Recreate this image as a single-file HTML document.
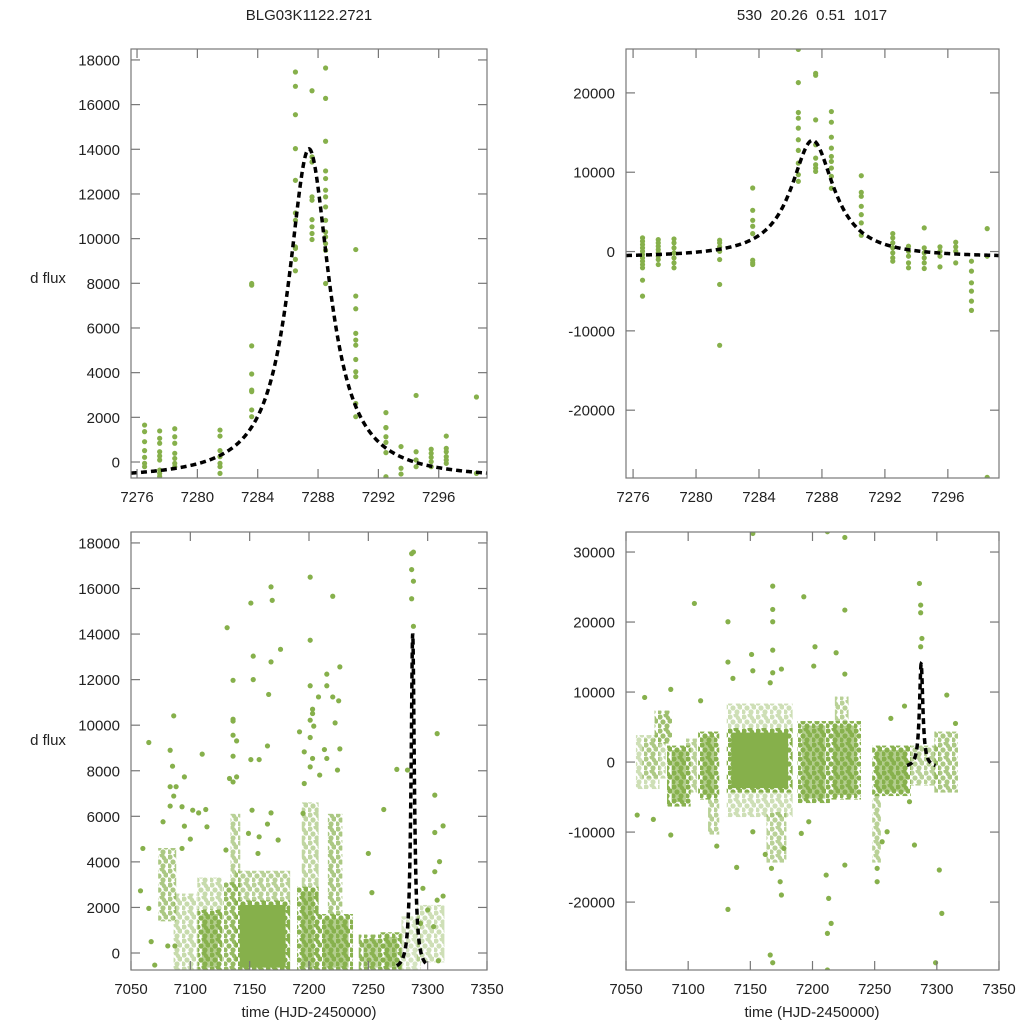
<!DOCTYPE html>
<html><head><meta charset="utf-8">
<style>
html,body{margin:0;padding:0;background:#fff;}
svg{display:block;font-family:"Liberation Sans",sans-serif;}
</style></head>
<body>
<svg id="chart" width="1024" height="1024" viewBox="0 0 1024 1024" xmlns="http://www.w3.org/2000/svg">
<defs>
<pattern id="dotTex" patternUnits="userSpaceOnUse" width="14" height="14">
<circle cx="2" cy="3" r="2.6" fill="#86b04b"/>
<circle cx="8" cy="1" r="2.6" fill="#86b04b"/>
<circle cx="12" cy="7" r="2.6" fill="#86b04b"/>
<circle cx="5" cy="8" r="2.6" fill="#86b04b"/>
<circle cx="1" cy="12" r="2.6" fill="#86b04b"/>
<circle cx="9" cy="12" r="2.6" fill="#86b04b"/>
<circle cx="10" cy="4" r="2.2" fill="#86b04b"/>
</pattern>
</defs>
<rect x="0" y="0" width="1024" height="1024" fill="#fff"/>
<text x="309" y="20" font-size="15" text-anchor="middle" fill="#222">BLG03K1122.2721</text>
<text x="812" y="20" font-size="15" text-anchor="middle" fill="#222" xml:space="preserve">530  20.26  0.51  1017</text>
<text x="48" y="283" font-size="15" text-anchor="middle" fill="#222">d flux</text>
<text x="48" y="745" font-size="15" text-anchor="middle" fill="#222">d flux</text>
<text x="309" y="1017" font-size="15" text-anchor="middle" fill="#222">time (HJD-2450000)</text>
<text x="812" y="1017" font-size="15" text-anchor="middle" fill="#222">time (HJD-2450000)</text>
</svg>
<script>
// ---- fit model parameters (microlensing peak) ----
const fitPeak = 14800, fitBase = -780, fitT0 = 7287.4, fitW = 1.65;

// ---- top-left: zoomed light curve ----
const tlTimes = [7276.5,7277.5,7278.5,7281.5,7283.6,7286.5,7287.6,7288.5,7290.5,7292.5,7293.5,7294.5,7295.5,7296.5,7298.5];
const tlValues = [
 [1655,1360,910,510,210,-60,-210],
 [1390,1060,840,460,270,90,-360,-510,-650],
 [1490,1130,840,390,160,-60,-210],
 [1430,1160,510,240,-60,-210,-510],
 [7990,7920,5200,3940,3150,3220,2330,2030],
 [17460,16820,15550,14030,12610,11150,10820,9630,9560,9070,8560],
 [16620,13660,13430,11870,11720,10850,10530,10230,9960],
 [17640,16280,14360,13030,12690,12170,11870,11420,10820,10300,10080,9780,9480,7990],
 [9510,7430,6860,5760,5460,5230,4590,4040,3820,2620,2030],
 [2210,1540,1540,1130,880,420,-660],
 [690,-280,-540],
 [2980,460,90,-210],
 [570,390,210,15,-210],
 [1160,610,460,240,90,-60],
 [2910,-510]
];
const tlYTicks = [0,2000,4000,6000,8000,10000,12000,14000,16000,18000];
const topXTicks = [7276,7280,7284,7288,7292,7296];

// ---- top-right ----
const trTimes = [7276.6,7277.6,7278.6,7281.5,7283.6,7286.5,7287.6,7288.6,7290.5,7292.5,7293.5,7294.5,7295.5,7296.5,7297.5,7298.5];
const trValues = [
 [1720,1300,880,460,40,-380,-800,-1220,-1640,-2050,-3610,-5620],
 [1510,1090,670,250,-170,-590,-1010,-1640],
 [1590,1090,460,-170,-800,-1430,-2050],
 [1430,1090,590,40,-1010,-4150,-11820],
 [8010,5200,3940,3190,2260,-1090,-1430,-1640],
 [25490,21300,17530,16810,15560,14090,12750,11150,9690,8850],
 [22470,22220,16600,13460,11780,10940,10520,10100],
 [17650,16310,14420,13040,11990,11360,10520,9480,7970],
 [9560,7460,6960,5700,4650,3610,2050],
 [2260,1720,1090,460,-170,-800,-1220],
 [670,40,-590,-1430,-2050],
 [2980,460,-170,-800,-1430,-2140],
 [590,40,-590,-1930],
 [1170,590,40,-1430],
 [-1220,-2470,-3940,-4990,-6250,-7420],
 [2890,-590,-28470]
];
const trYTicks = [-20000,-10000,0,10000,20000];

// ---- bottom-left: full season (dense regions as blocks) ----
const blBlockT0 = [7075,7088,7108,7108,7130,7136,7140,7140,7192,7196,7210,7218,7244,7262,7280,7293];
const blBlockT1 = [7086,7103,7125,7125,7140,7140,7182,7182,7206,7206,7235,7226,7262,7276,7292,7312];
const blBlockLo = [1500,-730,-730,1800,-730,3000,-730,2200,-730,2800,-730,1600,-730,-730,-730,-300];
const blBlockHi = [4500,2500,1800,3200,3000,6000,2200,3500,2800,6500,1600,6000,700,800,1500,2000];
const blBlockDensity = [0.6,0.4,0.85,0.4,0.75,0.5,1,0.5,0.85,0.45,0.85,0.6,0.8,0.85,0.3,0.35];
const blPtT = [7288,7286.5,7286.5,7288,7286.5,7288,7201,7168,7169,7151,7220,7131,7201,7176,7153,7168,7136,7153,7215,7226,7201,7215,7208,7220,7166,7225,7203,7203,7201,7086,7136,7136,7222,7204,7192,7308,7065,7136,7201,7139,7165,7196,7226,7110,7083,7213,7136,7151,7203,7158,7215,7274,7283,7095,7224,7201,7209,7085,7133,7136,7139,7196,7083,7088,7086,7306,7093,7083,7102,7107,7113,7195,7263,7152,7168,7165,7313,7077,7095,7100,7114,7093,7060,7130,7149,7158,7174,7157,7250,7306,7310,7306,7313,7058,7065,7067,7070,7081,7087,7253,7308,7296,7300,7305,7309,7294];
const blPtV = [17600,17530,16830,16320,15550,14340,16500,16070,15480,15360,15660,14280,13730,13330,13030,12780,11970,12000,12240,12560,11730,11730,11240,11240,11350,11070,10700,10510,10220,10410,10260,10180,10100,9960,9710,9630,9240,9560,9460,9310,9090,8830,8960,8730,8900,8930,8640,8490,8540,8490,8540,8060,8030,7730,8030,8170,7810,8200,7660,7510,7730,7440,7300,7300,6890,6930,6420,6450,6270,6150,6300,6130,6300,6270,6150,5660,5580,5760,5570,5000,5540,4590,4590,4520,5250,5100,4960,4370,4370,5290,4010,3570,2500,2730,1960,500,-530,310,310,2650,2320,2840,1890,1160,-340,1300];
const blYTicks = [0,2000,4000,6000,8000,10000,12000,14000,16000,18000];
const bottomXTicks = [7050,7100,7150,7200,7250,7300,7350];

// ---- bottom-right ----
const brBlockT0 = [7060,7065,7075,7085,7100,7110,7118,7133,7133,7133,7165,7190,7215,7220,7250,7250,7277,7300];
const brBlockT1 = [7075,7080,7085,7100,7105,7123,7123,7182,7182,7182,7177,7212,7237,7227,7277,7253,7300,7315];
const brBlockLo = [-3500,-2000,3000,-6000,-4000,-5000,-10000,-4000,4500,-7500,-14000,-5500,-5000,5500,-4500,-14000,-3000,-4000];
const brBlockHi = [3500,3000,7000,2000,3000,4000,-5000,4500,8000,-4000,-7500,5500,5500,9000,2000,-4500,2000,4000];
const brBlockDensity = [0.35,0.4,0.7,0.85,0.5,0.85,0.5,1,0.35,0.35,0.5,0.85,0.85,0.5,0.85,0.5,0.5,0.6];
const brPtT = [7152,7212,7226,7168,7286,7105,7193,7168,7226,7287,7287,7132,7168,7288,7287,7202,7151,7219,7168,7175,7132,7152,7168,7166,7201,7226,7136,7065,7308,7274,7263,7110,7086,7315,7059,7072,7086,7123,7152,7139,7162,7167,7132,7212,7215,7213,7211,7226,7282,7252,7302,7304,7299,7166,7168,7212,7175,7174,7177,7191,7252,7256,7260,7197,7278];
const brPtV = [32650,32900,32080,25130,25510,22660,23610,21800,21710,22420,21330,20040,20040,17660,16470,16470,15370,15610,15990,13280,14280,13040,12760,11330,13710,12570,11950,9230,9570,8000,6240,8760,10380,5520,-7570,-8190,-10420,-12000,-9950,-15040,-13190,-15180,-21040,-24470,-23040,-19470,-16140,-14710,-11850,-17090,-15420,-21610,-28660,-27560,-28660,-29700,-18990,-17090,-12330,-10190,-15180,-11380,-9950,-8520,-5660];
const brYTicks = [-20000,-10000,0,10000,20000,30000];

const GREEN = '#86b04b';
const NS = 'http://www.w3.org/2000/svg';
const svg = document.getElementById('chart');
function mk(tag, attrs, parent){
  const e = document.createElementNS(NS, tag);
  for (const k in attrs) e.setAttribute(k, attrs[k]);
  (parent||svg).appendChild(e);
  return e;
}
function fitModel(t){ const d=(t-fitT0)/fitW; return fitBase + fitPeak/(1+d*d); }

function drawPanel(p){
  const sx = v => p.x0 + (v - p.xmin)/(p.xmax - p.xmin)*(p.x1 - p.x0);
  const sy = v => p.y1 - (v - p.ymin)/(p.ymax - p.ymin)*(p.y1 - p.y0);
  const g = mk('g', {});
  
  
  const clipId = 'clip-' + p.name;
  const cp = mk('clipPath', {id: clipId}, g);
  mk('rect', {x:p.x0, y:p.y0, width:p.x1-p.x0, height:p.y1-p.y0}, cp);
  const data = mk('g', {'clip-path':'url(#'+clipId+')'}, g);
  
  
  if (p.blocks){
    const b = p.blocks;
    for (let i=0;i<b.t0.length;i++){
      const xa = sx(b.t0[i]), xb = sx(b.t1[i]);
      const ya = sy(b.hi[i]), yb = sy(b.lo[i]);
      const dens = b.d[i];
      if (dens >= 0.8){
        const inner = mk('rect', {x:xa+2, y:ya+2, width:Math.max(0,xb-xa-4), height:Math.max(0,yb-ya-4), fill:GREEN, 'fill-opacity':Math.min(1,(dens-0.6)*2.5)}, data);
        
        
      }
      const r = mk('rect', {x:xa-2.5, y:ya-2.5, width:xb-xa+5, height:yb-ya+5, fill:'url(#dotTex)', 'fill-opacity':Math.min(1,dens*1.15)}, data);
      
      
    }
  }
  if (p.times){
    for (let i=0;i<p.times.length;i++){
      for (const v of p.values[i]){
        const c = mk('circle', {cx:sx(p.times[i]), cy:sy(v), r:2.6, fill:GREEN}, data);
        
        
      }
    }
  }
  if (p.ptT){
    for (let i=0;i<p.ptT.length;i++){
      const c = mk('circle', {cx:sx(p.ptT[i]), cy:sy(p.ptV[i]), r:2.6, fill:GREEN}, data);
      
      
    }
  }
  let d = '';
  const N = 400;
  for (let i=0;i<=N;i++){
    const t = p.fitA + (p.fitB - p.fitA)*i/N;
    d += (i?'L':'M') + sx(t).toFixed(2) + ' ' + sy(fitModel(t)).toFixed(2);
  }
  const fl = mk('path', {d:d, fill:'none', stroke:'#000', 'stroke-width':3.5, 'stroke-dasharray':'6 4'}, data);
  
  
  const fr = mk('rect', {x:p.x0, y:p.y0, width:p.x1-p.x0, height:p.y1-p.y0, fill:'none', stroke:'#777', 'stroke-width':1.2}, g);
  
  
  for (const v of p.yTicks){
    const y = sy(v);
    mk('line', {x1:p.x0, x2:p.x0+9, y1:y, y2:y, stroke:'#777', 'stroke-width':1.2}, g);
    mk('line', {x1:p.x1, x2:p.x1-9, y1:y, y2:y, stroke:'#777', 'stroke-width':1.2}, g);
    const t = mk('text', {x:p.x0-11, y:y+5.5, 'font-size':15, 'text-anchor':'end', fill:'#222'}, g);
    
    
    t.textContent = v;
  }
  for (const v of p.xTicks){
    const x = sx(v);
    mk('line', {x1:x, x2:x, y1:p.y1, y2:p.y1-9, stroke:'#777', 'stroke-width':1.2}, g);
    mk('line', {x1:x, x2:x, y1:p.y0, y2:p.y0+9, stroke:'#777', 'stroke-width':1.2}, g);
    const t = mk('text', {x:x, y:p.y1+24, 'font-size':15, 'text-anchor':'middle', fill:'#222'}, g);
    
    
    t.textContent = v;
  }
}

drawPanel({name:'panel-top-left', x0:131, x1:487, y0:49, y1:478, xmin:7275.6, xmax:7299.2, ymin:-716, ymax:18490,
  times:tlTimes, values:tlValues, yTicks:tlYTicks, xTicks:topXTicks, fitA:7275.6, fitB:7299.2});
drawPanel({name:'panel-top-right', x0:626, x1:999, y0:49, y1:478, xmin:7275.55, xmax:7299.25, ymin:-28550, ymax:25535,
  times:trTimes, values:trValues, yTicks:trYTicks, xTicks:topXTicks, fitA:7275.55, fitB:7299.25});
drawPanel({name:'panel-bottom-left', x0:131, x1:487, y0:532, y1:970, xmin:7050, xmax:7350, ymin:-746, ymax:18480,
  blocks:{t0:blBlockT0,t1:blBlockT1,lo:blBlockLo,hi:blBlockHi,d:blBlockDensity}, ptT:blPtT, ptV:blPtV,
  yTicks:blYTicks, xTicks:bottomXTicks, fitA:7274, fitB:7300});
drawPanel({name:'panel-bottom-right', x0:626, x1:999, y0:532, y1:970, xmin:7050, xmax:7350, ymin:-29700, ymax:32860,
  blocks:{t0:brBlockT0,t1:brBlockT1,lo:brBlockLo,hi:brBlockHi,d:brBlockDensity}, ptT:brPtT, ptV:brPtV,
  yTicks:brYTicks, xTicks:bottomXTicks, fitA:7276, fitB:7299});
</script>
</body></html>
